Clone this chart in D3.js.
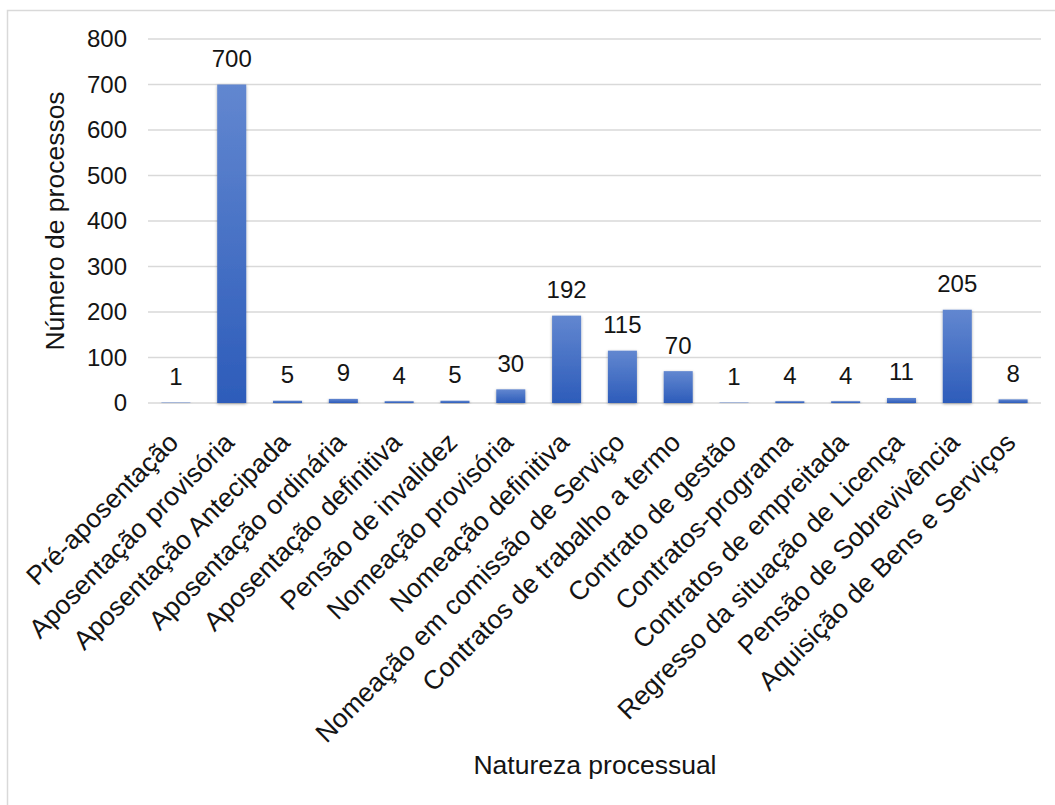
<!DOCTYPE html>
<html>
<head>
<meta charset="utf-8">
<script src="https://cdn.jsdelivr.net/npm/d3@7"></script>
<style>
  html, body { margin: 0; padding: 0; background: #fff; }
  svg { display: block; font-family: "Liberation Sans", Arial, sans-serif; }
</style>
</head>
<body>
<svg id="chart" width="1055" height="805"></svg>
<script>
const categories = [
  "Pré-aposentação",
  "Aposentação provisória",
  "Aposentação Antecipada",
  "Aposentação ordinária",
  "Aposentação definitiva",
  "Pensão de invalidez",
  "Nomeação provisória",
  "Nomeação definitiva",
  "Nomeação em comissão de Serviço",
  "Contratos de trabalho a termo",
  "Contrato de gestão",
  "Contratos-programa",
  "Contratos de empreitada",
  "Regresso da situação de Licença",
  "Pensão de Sobrevivência",
  "Aquisição de Bens e Serviços"
];
const processos = [1, 700, 5, 9, 4, 5, 30, 192, 115, 70, 1, 4, 4, 11, 205, 8];
const yTicks = [0, 100, 200, 300, 400, 500, 600, 700, 800];

const svg = d3.select("#chart");
const plot = { left: 148, right: 1041, top: 39, bottom: 403 };
const textColor = "#141414";

// outer chart frame
svg.append("rect")
  .attr("x", 7.5).attr("y", 10.5)
  .attr("width", 1100).attr("height", 900)
  .attr("fill", "#fff").attr("stroke", "#d9d9d9").attr("stroke-width", 1.5);

const defs = svg.append("defs");
const grad = defs.append("linearGradient")
  .attr("id", "barGrad").attr("x1", 0).attr("y1", 0).attr("x2", 0).attr("y2", 1);
grad.append("stop").attr("offset", "0%").attr("stop-color", "#6287d0");
grad.append("stop").attr("offset", "100%").attr("stop-color", "#2d5cba");

const shadow = defs.append("filter").attr("id", "barShadow")
  .attr("x", "-30%").attr("y", "-10%").attr("width", "160%").attr("height", "120%");
shadow.append("feDropShadow")
  .attr("dx", 0).attr("dy", 1).attr("stdDeviation", 1.6)
  .attr("flood-color", "#000").attr("flood-opacity", 0.35);

const x = d3.scaleBand()
  .domain(categories)
  .range([plot.left, plot.right])
  .paddingInner(0.48).paddingOuter(0.24);

const y = d3.scaleLinear().domain([0, 800]).range([plot.bottom, plot.top]);

// horizontal gridlines
svg.append("g")
  .selectAll("line")
  .data(yTicks)
  .join("line")
  .attr("x1", plot.left).attr("x2", plot.right)
  .attr("y1", d => y(d)).attr("y2", d => y(d))
  .attr("stroke", "#d9d9d9").attr("stroke-width", 1.5);

// y axis tick labels
const yAxis = d3.axisLeft(y).tickValues(yTicks).tickSize(0).tickPadding(21);
const gy = svg.append("g").attr("transform", `translate(${plot.left},0)`).call(yAxis);
gy.select(".domain").remove();
gy.selectAll("text")
  .attr("font-size", 24).attr("fill", textColor)
  .attr("font-family", "Liberation Sans, Arial, sans-serif");

// bars
svg.append("g")
  .selectAll("rect")
  .data(processos)
  .join("rect")
  .attr("x", (d, i) => x(categories[i]))
  .attr("y", d => y(d))
  .attr("width", x.bandwidth())
  .attr("height", d => y(0) - y(d))
  .attr("fill", "url(#barGrad)")
  .attr("filter", "url(#barShadow)");

// value labels
svg.append("g")
  .selectAll("text")
  .data(processos)
  .join("text")
  .attr("x", (d, i) => x(categories[i]) + x.bandwidth() / 2)
  .attr("y", d => y(d) - 17.5)
  .attr("text-anchor", "middle")
  .attr("font-size", 24).attr("fill", textColor)
  .text(d => d);

// x axis category labels, rotated
const xAxis = d3.axisBottom(x).tickSize(0).tickPadding(0);
const gx = svg.append("g").attr("transform", `translate(0,${plot.bottom})`).call(xAxis);
gx.select(".domain").remove();
gx.selectAll(".tick text")
  .attr("font-size", 26.5).attr("fill", textColor)
  .attr("font-family", "Liberation Sans, Arial, sans-serif")
  .attr("text-anchor", "end")
  .attr("dy", null)
  .attr("transform", "translate(4,41) rotate(-45)");

// axis titles
svg.append("text")
  .attr("transform", `translate(64,221) rotate(-90)`)
  .attr("text-anchor", "middle")
  .attr("font-size", 26.5).attr("fill", textColor)
  .text("Número de processos");

svg.append("text")
  .attr("x", 595).attr("y", 774)
  .attr("text-anchor", "middle")
  .attr("font-size", 26.5).attr("fill", textColor)
  .text("Natureza processual");
</script>
</body>
</html>
